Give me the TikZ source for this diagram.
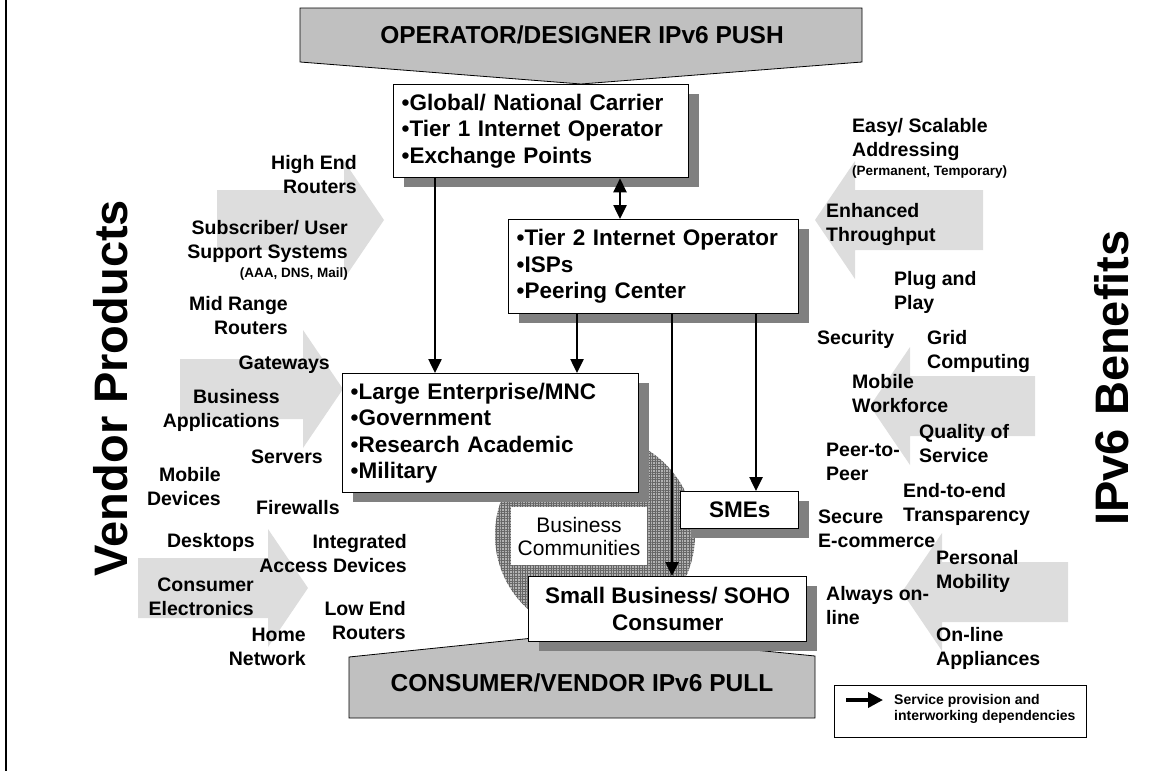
\documentclass[tikz,border=0pt]{standalone}
\usepackage{fontspec}
\setmainfont{Liberation Sans}
\usetikzlibrary{arrows.meta,shadows,patterns.meta}
\definecolor{bannergray}{HTML}{C0C0C0}
\definecolor{flowgray}{HTML}{DDDDDD}
\definecolor{shadegray}{HTML}{808080}
% wide light-grey flow arrows: #1 = tail x, #2 = tip x, #3 = centre y
\newcommand{\flowright}[3]{%
  \fill[flowgray] (#1,#3-30) -- (#2-40,#3-30) -- (#2-40,#3-59) -- (#2,#3)
    -- (#2-40,#3+59) -- (#2-40,#3+30) -- (#1,#3+30) -- cycle;}
\newcommand{\flowleft}[3]{%
  \fill[flowgray] (#1,#3-30) -- (#2+40,#3-30) -- (#2+40,#3-59) -- (#2,#3)
    -- (#2+40,#3+59) -- (#2+40,#3+30) -- (#1,#3+30) -- cycle;}
\begin{document}
\begin{tikzpicture}[x=1pt,y=-1pt,
  box/.style={draw=black, line width=1.3pt, fill=white, anchor=north west, inner sep=0pt,
    drop shadow={shadow xshift=10pt, shadow yshift=-9pt, fill=shadegray, opacity=1},
    font=\bfseries\fontsize{22.5}{26.5}\selectfont},
  listbox/.style={box, align=left, inner xsep=8pt},
  lbl/.style={font=\bfseries\fontsize{19.5}{24}\selectfont, inner sep=0pt},
  lft/.style={lbl, anchor=west, align=left},
  rgt/.style={lbl, anchor=east, align=right},
  tiny/.style={font=\bfseries\fontsize{13.5}{16}\selectfont, inner sep=0pt},
  bannertext/.style={font=\bfseries\fontsize{24.5}{28}\selectfont, inner sep=0pt},
  sidetitle/.style={font=\bfseries\fontsize{47}{50}\selectfont, inner sep=0pt, rotate=90},
  dep/.style={line width=2.5pt, -{Triangle[width=13pt,length=14pt]}},
  bidep/.style={line width=2.5pt, {Triangle[width=13pt,length=14pt]}-{Triangle[width=13pt,length=14pt]}}
]
\useasboundingbox (0,0) rectangle (1162,771);
\draw[line width=2pt] (6,0) -- (6,771);

% flow arrows on both sides
\flowright{217}{384}{220}
\flowright{180}{343}{389}
\flowright{138}{308}{588}
\flowleft{983}{815}{220}
\flowleft{1035}{870}{406}
\flowleft{1068}{902}{592}

% push / pull banners
\filldraw[fill=bannergray, draw=black, line width=0.8pt]
  (300,8) -- (862,8) -- (862,62) -- (581,84) -- (300,62) -- cycle;
\node[bannertext] (push) at (582,35) {OPERATOR/DESIGNER IPv6 PUSH};
\filldraw[fill=bannergray, draw=black, line width=0.8pt]
  (349,718) -- (815,718) -- (815,656) -- (582,633) -- (349,657) -- cycle;
\node[bannertext] (pull) at (582,683) {CONSUMER/VENDOR IPv6 PULL};

% business community disc
\fill[black!30] (595,535) circle (100);
\fill[pattern={Hatch[angle=0,distance=2.6pt,line width=0.9pt]}, pattern color=black!60]
  (595,535) circle (100);

% operator and customer boxes
\node[listbox, minimum width=295pt, minimum height=93pt, text width=279pt] (carrier) at (393,84)
  {•Global/ National Carrier\\•Tier 1 Internet Operator\\•Exchange Points};
\node[listbox, minimum width=290pt, minimum height=94pt, text width=274pt] (isp) at (508,219)
  {•Tier 2 Internet Operator\\•ISPs\\•Peering Center};
\node[listbox, minimum width=296pt, minimum height=119pt, text width=280pt] (enterprise) at (342,373)
  {•Large Enterprise/MNC\\•Government\\•Research Academic\\•Military};
\node[box, minimum width=118pt, minimum height=37pt] (sme) at (680,491) {SMEs};
\node[box, minimum width=278pt, minimum height=65pt, align=center] (soho) at (528,576)
  {Small Business/ SOHO\\Consumer};
\node[fill=white, minimum width=136pt, minimum height=58pt, inner sep=0pt, align=center,
  font=\fontsize{21}{23}\selectfont] (community) at (579,536) {Business\\Communities};

% service provision dependencies
\draw[dep] ([xshift=42pt]carrier.south west) -- ([xshift=42pt]carrier.south west |- enterprise.north);
\draw[bidep] ([xshift=227pt]carrier.south west) -- ([xshift=227pt]carrier.south west |- isp.north);
\draw[dep] ([xshift=69pt]isp.south west) -- ([xshift=69pt]isp.south west |- enterprise.north);
\draw[dep] ([xshift=164pt]isp.south west) -- ([xshift=164pt]isp.south west |- soho.north);
\draw[dep] ([xshift=248pt]isp.south west) -- ([xshift=248pt]isp.south west |- sme.north);

% vendor products
\node[sidetitle] (vendor) at (111,388) {Vendor Products};
\node[rgt] (hiend) at (357,174.5) {High End\\Routers};
\node[rgt] (subscr) at (348,241) {Subscriber/ User\\Support Systems};
\node[tiny, anchor=east] (aaa) at (348,274) {(AAA, DNS, Mail)};
\node[rgt] (midrange) at (288,316) {Mid Range\\Routers};
\node[rgt] (gateways) at (330,365) {Gateways};
\node[rgt] (bizapp) at (280,410.5) {Business\\Applications};
\node[rgt] (servers) at (323,457) {Servers};
\node[rgt] (mobiledev) at (221,486.5) {Mobile\\Devices};
\node[lft] (firewalls) at (256,508) {Firewalls};
\node[rgt] (desktops) at (255,542) {Desktops};
\node[rgt] (iad) at (407,554) {Integrated\\Access Devices};
\node[rgt] (consumer) at (254,596.5) {Consumer\\Electronics};
\node[rgt] (lowend) at (406,620.5) {Low End\\Routers};
\node[rgt] (homenet) at (306,647) {Home\\Network};

% IPv6 benefits
\node[sidetitle] (benefits) at (1112,378) {IPv6 Benefits};
\node[lft] (easy) at (852,139) {Easy/ Scalable\\Addressing};
\node[tiny, anchor=west] (perm) at (852,172) {(Permanent, Temporary)};
\node[lft] (throughput) at (826,224) {Enhanced\\Throughput};
\node[lft] (plug) at (894,292.5) {Plug and\\Play};
\node[lft] (security) at (817,339) {Security};
\node[lft] (grid) at (927,351) {Grid\\Computing};
\node[lft] (workforce) at (852,394) {Mobile\\Workforce};
\node[lft] (qos) at (919,444) {Quality of\\Service};
\node[lft] (p2p) at (826,461.5) {Peer-to-\\Peer};
\node[lft] (e2e) at (903,504) {End-to-end\\Transparency};
\node[lft] (ecommerce) at (818,529) {Secure\\E-commerce};
\node[lft] (mobility) at (936,571) {Personal\\Mobility};
\node[lft] (online) at (826,605.5) {Always on-\\line};
\node[lft] (appliances) at (936,648) {On-line\\Appliances};

% legend
\node[draw=black, line width=1pt, minimum width=252pt, minimum height=52pt, anchor=north west,
  inner sep=0pt] (legend) at (834,685) {};
\coordinate (legA) at (846,700);
\coordinate (legB) at (883,700);
\draw[line width=3.5pt, -{Triangle[width=15pt,length=15pt]}] (legA) -- (legB);
\node[tiny, anchor=west, align=left, font=\bfseries\fontsize{14}{16}\selectfont] (legtext) at (894,709)
  {Service provision and\\interworking dependencies};
\end{tikzpicture}
\end{document}
